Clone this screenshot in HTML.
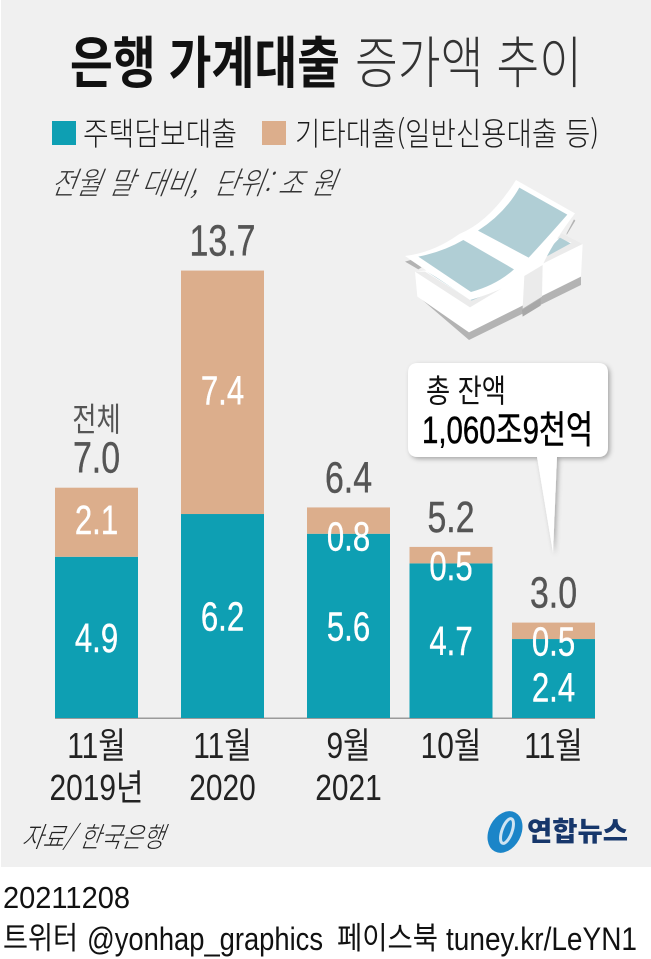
<!DOCTYPE html>
<html lang="ko">
<head>
<meta charset="utf-8">
<title>은행 가계대출 증가액 추이</title>
<style>
html,body{margin:0;padding:0;background:#fff;width:651px;height:959px;overflow:hidden}
svg{display:block}
text{font-family:"Liberation Sans","Noto Sans CJK KR",sans-serif;white-space:pre}
.kr{font-family:"Noto Sans CJK KR","Liberation Sans",sans-serif}
</style>
</head>
<body>
<svg id="chart" xmlns="http://www.w3.org/2000/svg" width="651" height="959" viewBox="0 0 651 959">
  <defs>
    <filter id="callout-shadow" x="-10%" y="-10%" width="120%" height="125%">
      <feDropShadow dx="2" dy="2" stdDeviation="2.5" flood-color="#000" flood-opacity="0.3"/>
    </filter>
  </defs>
  <rect x="1" y="0" width="650" height="867" fill="#f0f0f0"/>

  <text class="kr" x="70" y="83" font-size="56" font-weight="700" fill="#111" textLength="270" lengthAdjust="spacingAndGlyphs">은행 가계대출</text>
  <text class="kr" x="355" y="83" font-size="56" font-weight="300" fill="#333" textLength="227" lengthAdjust="spacingAndGlyphs">증가액 추이</text>

  <rect x="52" y="121" width="24" height="24" fill="#0e9fb3"/>
  <text class="kr" x="83" y="145" font-size="32" font-weight="300" fill="#1c1c1c" textLength="154" lengthAdjust="spacingAndGlyphs">주택담보대출</text>
  <rect x="262" y="121" width="24" height="24" fill="#dcae8c"/>
  <text class="kr" x="295" y="145" font-size="32" font-weight="300" fill="#1c1c1c" textLength="304" lengthAdjust="spacingAndGlyphs">기타대출(일반신용대출 등)</text>

  <text class="kr" font-size="31" font-weight="300" font-style="italic" fill="#333" transform="translate(50,194) skewX(-10)" textLength="285" lengthAdjust="spacingAndGlyphs">전월 말 대비,  단위: 조 원</text>

  <g transform="translate(390,170) scale(0.3333)">
    <polygon points="45,275 85,298 95,292 62,270" fill="#b3b3b3"/>
    <polygon points="530,190 552,148 556,152 530,195" fill="#b3b3b3"/>
    <polygon points="83,378 237,510 573,345 573,318 400,400 237,470 83,355" fill="#b3b3b3"/>
    <polygon points="396,420 398,440 452,407 452,385" fill="#a8a8a8"/>
    <polygon points="75,305 82,380 237,487 573,320 578,222 500,190 420,270" fill="#fff"/>
    <polygon points="75,305 240,412 402,315 460,280 578,222 515,190 500,205 545,218 440,275 245,392 105,305" fill="#ebebeb"/>
    <polygon points="110,305 245,392 300,368 250,385" fill="#b0ced5"/>
    <polygon points="510,203 542,220 438,277" fill="#b0ced5"/>
    <path d="M45,258 Q130,248 208,192 Q300,155 378,30 L555,130 Q490,215 458,285 L405,318 Q330,365 240,390 Z" fill="#fff"/>
    <path d="M85,260 Q160,245 220,210 L372,298 Q320,345 243,366 Z" fill="#b0ced5"/>
    <path d="M264,182 Q345,130 388,53 L532,134 Q470,205 416,263 Z" fill="#b0ced5"/>
    <polygon points="403,318 458,285 456,380 398,416" fill="#ebebeb"/>
  </g>

  <g>
    <path filter="url(#callout-shadow)" fill="#fff" d="M418,363 H598 Q608,363 608,373 V447 Q608,457 598,457 H557 L553,553 L537,457 H418 Q408,457 408,447 V373 Q408,363 418,363 Z"/>
    <text class="kr" x="426" y="402" font-size="32" font-weight="400" fill="#111" textLength="80" lengthAdjust="spacingAndGlyphs">총 잔액</text>
    <text x="422" y="443" font-size="38" font-weight="400" fill="#000" stroke="#000" stroke-width="0.5" textLength="171" lengthAdjust="spacingAndGlyphs">1,060조9천억</text>
  </g>

  <g id="bars"></g>

  <text class="kr" font-size="28" font-weight="300" font-style="italic" fill="#222" transform="translate(21,847) skewX(-10)" textLength="142" lengthAdjust="spacingAndGlyphs">자료/ 한국은행</text>

  <g>
    <ellipse cx="505" cy="832" rx="16" ry="22" fill="#1b85c8" transform="rotate(28 505 832)"/>
    <ellipse cx="507" cy="831" rx="5" ry="13" fill="none" stroke="#cfe4f2" stroke-width="3" transform="rotate(20 507 831)"/>
    <text class="kr" x="527" y="841" font-size="27" font-weight="900" fill="#17376b" textLength="101" lengthAdjust="spacingAndGlyphs">연합뉴스</text>
  </g>

  <text x="3" y="908" font-size="31" fill="#111" textLength="127" lengthAdjust="spacingAndGlyphs">20211208</text>
  <text class="kr" x="3" y="949" font-size="31" font-weight="400" fill="#111" textLength="75" lengthAdjust="spacingAndGlyphs">트위터</text>
  <text x="87" y="950" font-size="32" fill="#111" textLength="236" lengthAdjust="spacingAndGlyphs">@yonhap_graphics</text>
  <text class="kr" x="337" y="949" font-size="31" font-weight="400" fill="#111" textLength="101" lengthAdjust="spacingAndGlyphs">페이스북</text>
  <text x="446" y="950" font-size="32" fill="#111" textLength="191" lengthAdjust="spacingAndGlyphs">tuney.kr/LeYN1</text>

  <script>
    var categories = ['11월', '11월', '9월', '10월', '11월'];
    var years = ['2019년', '2020', '2021', '', ''];
    var mortgageValues = [4.9, 6.2, 5.6, 4.7, 2.4];
    var otherValues = [2.1, 7.4, 0.8, 0.5, 0.5];
    var totalLabels = [7.0, 13.7, 6.4, 5.2, 3.0];

    var SVG_NS = 'http://www.w3.org/2000/svg';
    var barsGroup = document.getElementById('bars');
    var baselineY = 718;
    var pxPerUnit = 32.9;
    var barWidth = 83;

    function yScale(v) { return baselineY - v * pxPerUnit; }

    // Categories carrying a year label sit further from their left neighbour.
    function barLeft(i) {
      var x = 55;
      for (var k = 1; k <= i; k++) { x += years[k] ? 126 : 102.5; }
      return x;
    }

    function makeRect(x, y, w, h, fill) {
      var r = document.createElementNS(SVG_NS, 'rect');
      r.setAttribute('x', x);
      r.setAttribute('y', y);
      r.setAttribute('width', w);
      r.setAttribute('height', h);
      r.setAttribute('fill', fill);
      barsGroup.appendChild(r);
      return r;
    }

    function makeText(str, cx, y, size, fill, squeeze) {
      var t = document.createElementNS(SVG_NS, 'text');
      t.setAttribute('text-anchor', 'middle');
      t.setAttribute('font-size', size);
      t.setAttribute('fill', fill);
      t.setAttribute('transform', 'translate(' + cx + ',' + y + ') scale(' + squeeze + ',1)');
      t.textContent = str;
      barsGroup.appendChild(t);
      return t;
    }

    var axisLine = makeRect(55, baselineY - 0.5, 540, 1.5, '#9a9a9a');
    
    

    categories.forEach(function (cat, i) {
      var left = barLeft(i);
      var cx = left + barWidth / 2;
      var m = mortgageValues[i];
      var o = otherValues[i];
      var mTop = yScale(m);
      var oTop = yScale(m + o);

      var mortgageBar = makeRect(left, mTop, barWidth, baselineY - mTop, '#0e9fb3');
      
      

      var otherBar = makeRect(left, oTop, barWidth, mTop - oTop, '#dcae8c');
      
      

      // Thin "other" segments let their label hang over into the teal section.
      var otherIsThin = mTop - oTop < 30;
      var oBase = otherIsThin ? mTop + 16.5 : (oTop + mTop) / 2 + 12;
      // A short teal section centres its label under the overhanging one.
      var mRegionTop = (otherIsThin && baselineY - mTop < 100) ? oBase : mTop;
      var mBase = (mRegionTop + baselineY) / 2 + 14.5;

      var mLabel = makeText(m.toFixed(1), cx, mBase, 41, '#fff', 0.76);
      mLabel.setAttribute('stroke', '#fff');
      mLabel.setAttribute('stroke-width', '0.4');
      
      

      var oLabel = makeText(o.toFixed(1), cx, oBase, 41, '#fff', 0.76);
      oLabel.setAttribute('stroke', '#fff');
      oLabel.setAttribute('stroke-width', '0.4');
      
      

      var totalLabel = makeText(totalLabels[i].toFixed(1), cx, oTop - 15, 44, '#555', 0.77);
      totalLabel.setAttribute('stroke', '#555');
      totalLabel.setAttribute('stroke-width', '0.4');
      
      

      var monthLabel = makeText(cat, cx, 758, 36, '#222', 0.83);
      
      

      if (years[i]) {
        var yearLabel = makeText(years[i], cx, 800, 36, '#222', 0.83);
        
        
      }
    });

    var totalWord = makeText('전체', barLeft(0) + barWidth / 2, 431, 33, '#555', 0.8);
    
    
  </script>
</svg>
</body>
</html>
